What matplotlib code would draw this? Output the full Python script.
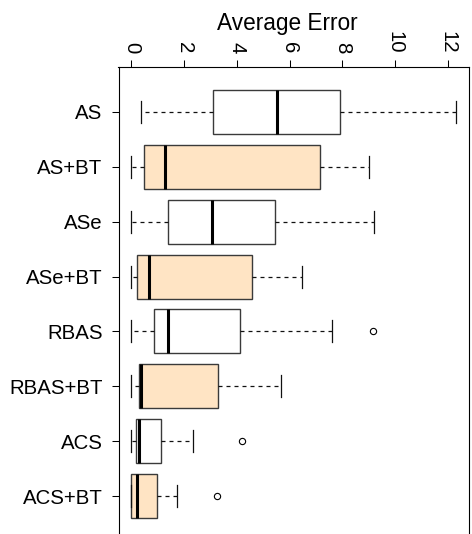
import matplotlib
matplotlib.use("Agg")
import matplotlib.pyplot as plt

categories = ["AS", "AS+BT", "ASe", "ASe+BT", "RBAS", "RBAS+BT", "ACS", "ACS+BT"]
whisker_low = [0.37, 0.0, 0.0, 0.0, 0.0, 0.0, 0.0, 0.0]
q1 = [3.11, 0.48, 1.40, 0.23, 0.87, 0.27, 0.19, 0.0]
median = [5.53, 1.29, 3.07, 0.66, 1.40, 0.38, 0.30, 0.21]
q3 = [7.92, 7.14, 5.44, 4.56, 4.12, 3.28, 1.11, 0.97]
whisker_high = [12.32, 9.01, 9.21, 6.48, 7.63, 5.67, 2.34, 1.73]
outliers = [[], [], [], [], [9.18], [], [4.19], [3.23]]
fills = ["white", "#FFE4C4", "white", "#FFE4C4", "white", "#FFE4C4", "white", "#FFE4C4"]
xticks = [0, 2, 4, 6, 8, 10, 12]

plt.rcParams['font.family'] = ['Liberation Sans', 'DejaVu Sans']

fig = plt.figure(figsize=(4.72, 5.34), dpi=100)
ax = fig.add_axes([118.5 / 472, 1 - 541.3 / 534, (469 - 118.5) / 472, (541.3 - 66.7) / 534])

stats = []
for i, c in enumerate(categories):
    stats.append(dict(label=c, whislo=whisker_low[i], q1=q1[i], med=median[i],
                      q3=q3[i], whishi=whisker_high[i], fliers=outliers[i]))

positions = list(range(1, len(categories) + 1))
bp = ax.bxp(stats, positions=positions, widths=0.8, capwidths=0.4,
            orientation='horizontal', patch_artist=True, showfliers=True,
            boxprops=dict(edgecolor='#3a3a3a', linewidth=1.0),
            medianprops=dict(color='black', linewidth=2.2, solid_capstyle='butt'),
            whiskerprops=dict(color='#111111', linewidth=0.9, linestyle=(0, (3.2, 3.2))),
            capprops=dict(color='#111111', linewidth=0.9),
            flierprops=dict(marker='o', markersize=4.5, markerfacecolor='none',
                            markeredgecolor='black', markeredgewidth=0.8, linestyle='none'))
for patch, f in zip(bp['boxes'], fills):
    patch.set_facecolor(f)

ax.set_xlim(-0.49, 12.81)
ax.set_ylim(8.82, 0.18)
ax.set_yticks(positions)
ax.set_yticklabels(categories)
ax.xaxis.tick_top()
ax.set_xticks(xticks)
ax.set_xticklabels([str(t) for t in xticks])
ax.tick_params(axis='x', which='both', labelrotation=-90, length=5, width=0.75,
               pad=4.5, labelsize=14.7, top=True, bottom=False)
ax.tick_params(axis='y', length=5, width=0.75, pad=6.5, labelsize=14.7)
for s in ax.spines.values():
    s.set_linewidth(0.8)
    s.set_color('black')

fig.text(287.5 / 472, 1 - 30 / 534, "Average Error", ha='center', va='baseline', fontsize=16.3)

fig.savefig("out.png", dpi=100)
